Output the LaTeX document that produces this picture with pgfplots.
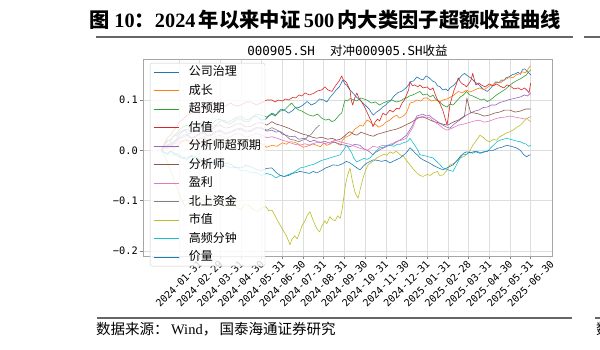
\documentclass[border=0pt]{standalone}
\usepackage{fontspec}
\usepackage{pgfplots}
\pgfplotsset{compat=1.18}
\setmainfont{Liberation Serif}
\newfontfamily\cjk{Noto Sans CJK SC}
\newfontfamily\mono{DejaVu Sans Mono}
\definecolor{tblue}{HTML}{1F77B4}
\definecolor{torange}{HTML}{FF7F0E}
\definecolor{tgreen}{HTML}{2CA02C}
\definecolor{tred}{HTML}{D62728}
\definecolor{tpurple}{HTML}{9467BD}
\definecolor{tbrown}{HTML}{8C564B}
\definecolor{tpink}{HTML}{E377C2}
\definecolor{tgray}{HTML}{7F7F7F}
\definecolor{tolive}{HTML}{BCBD22}
\definecolor{tcyan}{HTML}{17BECF}
\begin{document}
\begin{tikzpicture}[x=1pt,y=1pt]
\useasboundingbox (0,0) rectangle (600,350);
% page title
\node[anchor=center,inner sep=0pt] at (325,330) {\fontsize{20.3}{22}\selectfont{\cjk\bfseries 图}\ {\bfseries 10}{\cjk\bfseries ：}{\bfseries 2024}\,{\cjk\bfseries 年以来中证}\,{\bfseries 500}\,{\cjk\bfseries 内大类因子超额收益曲线}};
\draw[line width=1.3pt,black!60] (96,313) -- (573,313);
\draw[line width=1.3pt,black!60] (584,313) -- (600,313);
% footer
\draw[line width=1.3pt,black!60] (97,32) -- (572,32);
\draw[line width=1.3pt,black!60] (595,32) -- (600,32);
\node[anchor=west,inner sep=0pt] at (96,21) {\fontsize{14.5}{16}\selectfont{\cjk 数据来源：}\,Wind{\cjk ，}\,{\cjk 国泰海通证券研究}};
\node[anchor=west,inner sep=0pt] at (596,21) {\fontsize{14.5}{16}\selectfont\cjk 数};
% chart title
\node[anchor=center,inner sep=0pt] at (347.5,299) {\fontsize{12.5}{14}\selectfont{\mono 000905.SH}\hspace{1.2em}{\cjk 对冲}{\mono 000905.SH}{\cjk 收益}};
\begin{axis}[
  at={(143pt,94pt)}, anchor=south west,
  scale only axis, width=409pt, height=197pt,
  xmin=-1.73, xmax=18.03, ymin=-0.2101, ymax=0.1815,
  axis line style={draw=black!35, line width=0.6pt},
  grid=major, major grid style={black!13, line width=0.5pt},
  tick style={black!50, line width=0.5pt}, major tick length=3pt, tick align=outside,
  xtick pos=lower, ytick pos=left,
  ytick={-0.2,-0.1,0,0.1}, yticklabels={−0.2,−0.1,0.0,0.1},
  yticklabel style={font=\mono\fontsize{10.3}{12}\selectfont, inner sep=2pt},
  xtick={0,...,17},
  xticklabels={2024-01-31,2024-02-29,2024-03-31,2024-04-30,2024-05-31,2024-06-30,2024-07-31,2024-08-31,2024-09-30,2024-10-31,2024-11-30,2024-12-31,2025-01-31,2025-02-28,2025-03-31,2025-04-30,2025-05-31,2025-06-30},
  xticklabel style={rotate=45, anchor=center, font=\mono\fontsize{10}{11}\selectfont, inner sep=1pt},
  xticklabel shift=25pt,
  no markers,
  every axis plot/.append style={line width=0.6pt, line join=round},
  legend cell align=left,
  legend image code/.code={\draw[#1, line width=0.8pt] (0pt,0pt) -- (25pt,0pt);},
  legend style={at={(0.017,0.98)}, anchor=north west, draw=black!20, fill=white,
    fill opacity=0.82, draw opacity=1, text opacity=1, rounded corners=2pt,
    font=\cjk\fontsize{12}{14}\selectfont, inner xsep=3pt, inner ysep=2pt,
    row sep=4.5pt, column sep=9pt,
    nodes={inner xsep=1pt, inner ysep=1pt, text height=9.5pt, text depth=2.5pt}},
]
\addplot[tblue] coordinates {(-0.85,0) (-0.7,0.008) (-0.55,0.004) (-0.4,0.016) (-0.25,0.012) (-0.1,0.024) (0,0.03) (0.15,0.036) (0.3,0.04) (0.45,0.032) (0.6,0.035) (0.8,0.044) (1,0.045) (1.2,0.05) (1.4,0.055) (1.6,0.047) (1.8,0.05) (2,0.058) (2.2,0.06) (2.4,0.052) (2.6,0.055) (2.8,0.062) (3,0.063) (3.2,0.056) (3.4,0.058) (3.6,0.068) (3.8,0.066) (4,0.06) (4.2,0.062) (4.35,0.068) (4.5,0.072) (4.65,0.068) (4.8,0.076) (4.95,0.082) (5.1,0.08) (5.3,0.074) (5.5,0.079) (5.65,0.086) (5.8,0.085) (6,0.09) (6.2,0.097) (6.4,0.09) (6.6,0.094) (6.8,0.102) (7,0.1) (7.15,0.096) (7.3,0.105) (7.45,0.112) (7.6,0.12) (7.75,0.126) (7.93,0.14) (8.02,0.132) (8.1,0.13) (8.2,0.124) (8.27,0.12) (8.45,0.112) (8.6,0.105) (8.8,0.098) (9,0.09) (9.1,0.086) (9.2,0.082) (9.3,0.075) (9.4,0.07) (9.55,0.076) (9.7,0.08) (9.85,0.086) (10,0.09) (10.1,0.095) (10.2,0.097) (10.4,0.108) (10.6,0.115) (10.8,0.118) (11,0.125) (11.1,0.13) (11.17,0.136) (11.35,0.138) (11.5,0.146) (11.65,0.142) (11.8,0.14) (11.95,0.148) (12.1,0.144) (12.25,0.138) (12.4,0.135) (12.5,0.128) (12.6,0.127) (12.75,0.12) (12.9,0.122) (13,0.118) (13.1,0.124) (13.3,0.13) (13.5,0.14) (13.65,0.148) (13.8,0.153) (13.95,0.148) (14.1,0.144) (14.3,0.136) (14.5,0.13) (14.7,0.122) (14.9,0.117) (15.1,0.125) (15.3,0.136) (15.45,0.134) (15.6,0.14) (15.7,0.138) (15.8,0.144) (15.95,0.146) (16.1,0.15) (16.25,0.152) (16.4,0.155) (16.5,0.151) (16.6,0.16) (16.7,0.162) (16.8,0.158) (16.9,0.154) (17,0.15)};
\addlegendentry{公司治理}
\addplot[torange] coordinates {(-0.85,0) (-0.7,0.006) (-0.55,0.003) (-0.4,0.01) (-0.25,0.002) (-0.1,0.008) (0,0.012) (0.2,0.018) (0.4,0.02) (0.6,0.012) (0.8,0.015) (1,0.022) (1.2,0.025) (1.4,0.018) (1.6,0.02) (1.8,0.024) (2,0.018) (2.25,0.014) (2.5,0.012) (2.75,0.018) (3,0.015) (3.25,0.008) (3.5,0.01) (3.75,0.016) (4,0.013) (4.25,0.006) (4.5,0.01) (4.75,0.008) (5,0.015) (5.2,0.012) (5.37,0.017) (5.6,0.016) (5.8,0.012) (6,0.006) (6.2,0.008) (6.45,0.013) (6.66,0.01) (6.85,0.007) (7,0.015) (7.15,0.01) (7.3,0.012) (7.45,0.018) (7.63,0.014) (7.8,0.01) (7.9,0.02) (8.05,0.026) (8.27,0.03) (8.4,0.036) (8.5,0.042) (8.65,0.046) (8.75,0.05) (8.9,0.048) (9,0.055) (9.1,0.06) (9.24,0.057) (9.4,0.05) (9.5,0.052) (9.65,0.046) (9.86,0.05) (10,0.056) (10.2,0.06) (10.35,0.066) (10.53,0.07) (10.65,0.064) (10.8,0.067) (10.9,0.07) (11,0.075) (11.1,0.085) (11.17,0.094) (11.35,0.096) (11.5,0.1) (11.7,0.098) (11.85,0.104) (12,0.104) (12.2,0.098) (12.4,0.1) (12.6,0.096) (12.76,0.1) (12.95,0.102) (13.1,0.105) (13.3,0.11) (13.5,0.117) (13.7,0.114) (13.9,0.12) (14.05,0.116) (14.2,0.118) (14.4,0.122) (14.55,0.124) (14.75,0.12) (15,0.128) (15.2,0.13) (15.37,0.136) (15.55,0.134) (15.7,0.14) (15.85,0.142) (16,0.146) (16.15,0.144) (16.3,0.15) (16.45,0.152) (16.6,0.156) (16.75,0.154) (16.85,0.16) (16.95,0.166) (17,0.168)};
\addlegendentry{成长}
\addplot[tgreen] coordinates {(-0.85,0) (-0.7,0.012) (-0.55,0.02) (-0.4,0.018) (-0.25,0.03) (-0.1,0.034) (0,0.04) (0.2,0.046) (0.4,0.05) (0.6,0.042) (0.8,0.045) (1,0.052) (1.2,0.058) (1.4,0.05) (1.6,0.052) (1.8,0.06) (2,0.062) (2.25,0.055) (2.5,0.058) (2.75,0.065) (3,0.068) (3.25,0.06) (3.5,0.064) (3.75,0.072) (4,0.07) (4.25,0.066) (4.5,0.074) (4.7,0.07) (4.9,0.078) (5.1,0.08) (5.3,0.088) (5.45,0.094) (5.6,0.086) (5.8,0.08) (5.95,0.078) (6.1,0.074) (6.3,0.07) (6.5,0.068) (6.7,0.072) (6.9,0.064) (7.1,0.06) (7.25,0.062) (7.4,0.057) (7.55,0.06) (7.65,0.065) (7.75,0.07) (7.87,0.074) (7.95,0.088) (8.03,0.1) (8.15,0.098) (8.27,0.103) (8.45,0.1) (8.6,0.098) (8.8,0.104) (9.08,0.1) (9.3,0.094) (9.5,0.096) (9.7,0.09) (9.86,0.094) (10.1,0.098) (10.3,0.1) (10.5,0.096) (10.7,0.098) (10.85,0.102) (11,0.104) (11.15,0.108) (11.3,0.11) (11.5,0.114) (11.65,0.117) (11.8,0.11) (12,0.112) (12.15,0.106) (12.28,0.11) (12.4,0.102) (12.5,0.1) (12.65,0.094) (12.76,0.09) (12.95,0.086) (13.1,0.092) (13.25,0.09) (13.4,0.097) (13.6,0.106) (13.75,0.11) (13.9,0.117) (14.05,0.11) (14.2,0.108) (14.4,0.104) (14.6,0.1) (14.75,0.102) (14.9,0.097) (15.05,0.1) (15.2,0.105) (15.35,0.11) (15.5,0.114) (15.65,0.118) (15.8,0.122) (15.95,0.128) (16.14,0.134) (16.3,0.138) (16.5,0.142) (16.65,0.146) (16.8,0.15) (16.9,0.156) (17,0.16)};
\addlegendentry{超预期}
\addplot[tred] coordinates {(-0.85,0) (-0.7,0.014) (-0.55,0.025) (-0.4,0.03) (-0.25,0.04) (-0.1,0.046) (0,0.055) (0.2,0.062) (0.4,0.07) (0.6,0.074) (0.8,0.078) (1,0.084) (1.2,0.085) (1.4,0.078) (1.6,0.08) (1.8,0.088) (2,0.09) (2.25,0.088) (2.5,0.094) (2.75,0.088) (3,0.09) (3.25,0.096) (3.5,0.096) (3.75,0.09) (4,0.095) (4.25,0.1) (4.5,0.1) (4.65,0.096) (4.8,0.1) (5,0.098) (5.15,0.102) (5.3,0.1) (5.5,0.105) (5.65,0.104) (5.8,0.11) (5.95,0.108) (6.1,0.114) (6.3,0.11) (6.5,0.113) (6.7,0.118) (6.9,0.12) (7.06,0.126) (7.2,0.12) (7.4,0.117) (7.5,0.124) (7.6,0.13) (7.75,0.138) (7.87,0.148) (7.95,0.14) (8.1,0.135) (8.2,0.126) (8.27,0.12) (8.33,0.1) (8.4,0.09) (8.5,0.104) (8.6,0.114) (8.7,0.104) (8.85,0.095) (8.95,0.088) (9.08,0.077) (9.2,0.066) (9.3,0.058) (9.38,0.047) (9.48,0.056) (9.6,0.062) (9.7,0.058) (9.86,0.074) (10,0.07) (10.2,0.08) (10.35,0.076) (10.53,0.084) (10.65,0.082) (10.8,0.095) (10.9,0.1) (11,0.11) (11.1,0.12) (11.17,0.136) (11.3,0.128) (11.4,0.13) (11.55,0.126) (11.65,0.13) (11.8,0.124) (12,0.126) (12.15,0.12) (12.28,0.124) (12.4,0.11) (12.5,0.1) (12.6,0.094) (12.75,0.08) (12.85,0.066) (12.96,0.05) (13.03,0.07) (13.1,0.09) (13.2,0.106) (13.3,0.12) (13.4,0.13) (13.5,0.144) (13.6,0.136) (13.7,0.132) (13.8,0.13) (13.9,0.126) (14.05,0.135) (14.12,0.14) (14.2,0.153) (14.28,0.14) (14.35,0.13) (14.5,0.134) (14.6,0.13) (14.8,0.126) (15,0.132) (15.2,0.128) (15.35,0.132) (15.5,0.128) (15.7,0.124) (15.85,0.13) (16,0.128) (16.2,0.122) (16.4,0.124) (16.55,0.12) (16.7,0.124) (16.85,0.118) (16.92,0.114) (17,0.134)};
\addlegendentry{估值}
\addplot[tpurple] coordinates {(-0.85,0) (-0.7,0.006) (-0.55,0.012) (-0.4,0.01) (-0.25,0.018) (-0.1,0.02) (0,0.025) (0.2,0.03) (0.4,0.032) (0.6,0.025) (0.8,0.028) (1,0.034) (1.2,0.036) (1.4,0.03) (1.6,0.032) (1.8,0.038) (2,0.04) (2.25,0.034) (2.5,0.036) (2.75,0.042) (3,0.044) (3.25,0.038) (3.5,0.04) (3.75,0.046) (4,0.043) (4.25,0.038) (4.5,0.04) (4.7,0.036) (4.85,0.038) (5,0.032) (5.2,0.03) (5.37,0.027) (5.6,0.028) (5.8,0.022) (6.05,0.024) (6.34,0.017) (6.55,0.02) (6.8,0.015) (7.05,0.018) (7.3,0.014) (7.55,0.016) (7.8,0.012) (8.05,0.01) (8.27,0.007) (8.5,0.012) (8.75,0.01) (8.9,0.004) (9.1,0.0) (9.25,-0.004) (9.38,-0.009) (9.5,-0.004) (9.6,-0.002) (9.75,0.002) (9.86,0.004) (10.05,0.008) (10.2,0.01) (10.35,0.012) (10.53,0.017) (10.75,0.022) (11,0.03) (11.15,0.04) (11.3,0.05) (11.4,0.06) (11.5,0.068) (11.65,0.07) (11.8,0.072) (11.95,0.068) (12.1,0.07) (12.25,0.064) (12.4,0.06) (12.6,0.054) (12.76,0.05) (12.95,0.046) (13.1,0.044) (13.3,0.052) (13.5,0.058) (13.7,0.064) (13.9,0.07) (14.1,0.074) (14.3,0.078) (14.5,0.08) (14.7,0.085) (14.9,0.086) (15.1,0.09) (15.3,0.09) (15.5,0.095) (15.7,0.097) (15.9,0.1) (16.1,0.102) (16.3,0.104) (16.5,0.106) (16.7,0.11) (16.85,0.108) (17,0.114)};
\addlegendentry{分析师超预期}
\addplot[tbrown] coordinates {(-0.85,0) (-0.7,0.01) (-0.55,0.018) (-0.4,0.022) (-0.25,0.028) (-0.1,0.03) (0,0.035) (0.2,0.04) (0.4,0.042) (0.6,0.036) (0.8,0.038) (1,0.044) (1.2,0.047) (1.4,0.04) (1.6,0.042) (1.8,0.048) (2,0.05) (2.25,0.044) (2.5,0.046) (2.75,0.052) (3,0.053) (3.25,0.046) (3.5,0.048) (3.75,0.054) (4,0.055) (4.25,0.05) (4.5,0.057) (4.7,0.052) (4.9,0.05) (5.1,0.047) (5.3,0.044) (5.5,0.04) (5.75,0.036) (6,0.032) (6.2,0.03) (6.45,0.026) (6.66,0.024) (6.9,0.026) (7.2,0.022) (7.4,0.024) (7.63,0.02) (7.8,0.022) (8,0.028) (8.15,0.034) (8.27,0.037) (8.45,0.032) (8.6,0.03) (8.8,0.036) (9,0.033) (9.2,0.03) (9.4,0.028) (9.6,0.032) (9.86,0.035) (10.1,0.038) (10.3,0.04) (10.5,0.042) (10.7,0.045) (10.95,0.05) (11.2,0.055) (11.4,0.06) (11.6,0.065) (11.8,0.066) (12,0.063) (12.25,0.058) (12.5,0.055) (12.75,0.052) (13,0.05) (13.25,0.056) (13.5,0.06) (13.65,0.064) (13.8,0.068) (13.86,0.085) (13.92,0.104) (14,0.09) (14.1,0.075) (14.3,0.074) (14.5,0.072) (14.75,0.068) (15,0.07) (15.25,0.074) (15.5,0.076) (15.75,0.08) (16,0.08) (16.25,0.076) (16.5,0.078) (16.75,0.082) (17,0.082)};
\addlegendentry{分析师}
\addplot[tpink] coordinates {(-0.85,0) (-0.7,0.004) (-0.55,0.006) (-0.4,0.004) (-0.25,0.012) (-0.1,0.014) (0,0.016) (0.2,0.02) (0.4,0.022) (0.6,0.016) (0.8,0.018) (1,0.024) (1.2,0.027) (1.4,0.022) (1.6,0.024) (1.8,0.028) (2,0.03) (2.25,0.024) (2.5,0.027) (2.75,0.033) (3,0.032) (3.25,0.026) (3.5,0.029) (3.75,0.034) (4,0.03) (4.25,0.025) (4.5,0.027) (4.75,0.024) (5,0.02) (5.2,0.018) (5.37,0.015) (5.6,0.012) (5.86,0.01) (6.1,0.013) (6.34,0.01) (6.55,0.014) (6.8,0.017) (7.05,0.013) (7.3,0.016) (7.55,0.02) (7.8,0.017) (8.05,0.014) (8.27,0.012) (8.5,0.008) (8.75,0.004) (8.95,0.002) (9.1,0.0) (9.25,0.004) (9.38,0.008) (9.6,0.006) (9.86,0.01) (10.05,0.008) (10.2,0.012) (10.35,0.014) (10.53,0.018) (10.75,0.02) (11,0.024) (11.15,0.035) (11.3,0.045) (11.4,0.056) (11.5,0.065) (11.65,0.066) (11.8,0.068) (11.95,0.064) (12.1,0.066) (12.25,0.06) (12.4,0.055) (12.6,0.05) (12.76,0.044) (12.95,0.04) (13.1,0.042) (13.3,0.046) (13.5,0.05) (13.75,0.052) (14,0.055) (14.25,0.058) (14.5,0.06) (14.75,0.056) (15,0.058) (15.25,0.062) (15.5,0.065) (15.75,0.066) (16,0.068) (16.25,0.066) (16.5,0.064) (16.75,0.062) (17,0.067)};
\addlegendentry{盈利}
\addplot[tgray] coordinates {(-0.85,0) (-0.7,0.006) (-0.55,0.01) (-0.4,0.008) (-0.25,0.015) (-0.1,0.018) (0,0.022) (0.2,0.026) (0.4,0.03) (0.6,0.024) (0.8,0.026) (1,0.032) (1.2,0.034) (1.4,0.028) (1.6,0.03) (1.8,0.036) (2,0.038) (2.25,0.032) (2.5,0.036) (2.75,0.04) (3,0.042) (3.25,0.036) (3.5,0.038) (3.75,0.044) (4,0.045) (4.25,0.04) (4.5,0.045) (4.75,0.04) (5,0.035) (5.2,0.028) (5.37,0.022) (5.6,0.02) (5.8,0.017) (5.95,0.02) (6.1,0.022) (6.25,0.028) (6.4,0.032) (6.55,0.04) (6.66,0.045) (6.8,0.05)};
\addlegendentry{北上资金}
\addplot[tolive] coordinates {(-0.85,0) (-0.7,-0.01) (-0.6,-0.02) (-0.5,-0.03) (-0.4,-0.04) (-0.3,-0.05) (-0.2,-0.065) (-0.1,-0.072) (0,-0.085) (0.15,-0.1) (0.3,-0.112) (0.45,-0.104) (0.6,-0.1) (0.8,-0.09) (1,-0.095) (1.2,-0.102) (1.4,-0.108) (1.6,-0.098) (1.8,-0.1) (2,-0.106) (2.2,-0.112) (2.4,-0.104) (2.6,-0.105) (2.8,-0.114) (3,-0.118) (3.2,-0.108) (3.4,-0.11) (3.6,-0.118) (3.8,-0.122) (4,-0.115) (4.2,-0.112) (4.35,-0.12) (4.5,-0.119) (4.65,-0.13) (4.8,-0.142) (4.9,-0.149) (5.05,-0.16) (5.2,-0.17) (5.3,-0.18) (5.37,-0.188) (5.45,-0.178) (5.6,-0.17) (5.72,-0.176) (5.85,-0.162) (5.95,-0.15) (6.1,-0.14) (6.2,-0.13) (6.34,-0.122) (6.45,-0.135) (6.6,-0.15) (6.7,-0.158) (6.8,-0.162) (6.92,-0.15) (7.05,-0.14) (7.15,-0.146) (7.3,-0.132) (7.42,-0.138) (7.55,-0.14) (7.68,-0.13) (7.8,-0.135) (7.88,-0.12) (7.95,-0.1) (8.05,-0.069) (8.15,-0.05) (8.27,-0.035) (8.38,-0.06) (8.5,-0.082) (8.58,-0.09) (8.66,-0.095) (8.78,-0.075) (8.9,-0.055) (9.02,-0.04) (9.14,-0.029) (9.3,-0.024) (9.45,-0.02) (9.56,-0.015) (9.7,-0.012) (9.9,-0.008) (10.05,-0.01) (10.2,-0.003) (10.35,-0.006) (10.5,-0.002) (10.7,-0.009) (10.85,-0.012) (11,-0.02) (11.17,-0.029) (11.3,-0.036) (11.5,-0.045) (11.65,-0.05) (11.8,-0.052) (12,-0.048) (12.15,-0.05) (12.3,-0.045) (12.5,-0.042) (12.6,-0.05) (12.76,-0.049) (12.95,-0.04) (13.1,-0.029) (13.3,-0.026) (13.45,-0.02) (13.6,-0.015) (13.8,-0.012) (13.95,-0.006) (14.08,0.0) (14.2,0.01) (14.35,0.018) (14.55,0.03) (14.7,0.026) (14.85,0.02) (15.03,0.017) (15.2,0.022) (15.35,0.02) (15.5,0.027) (15.65,0.03) (15.8,0.034) (16,0.037) (16.15,0.04) (16.3,0.045) (16.5,0.05) (16.65,0.056) (16.8,0.064) (16.9,0.06) (17,0.057)};
\addlegendentry{市值}
\addplot[tcyan] coordinates {(-0.85,0) (-0.7,-0.004) (-0.55,-0.006) (-0.4,-0.002) (-0.25,-0.01) (-0.1,-0.006) (0,-0.008) (0.2,-0.014) (0.4,-0.015) (0.6,-0.01) (0.8,-0.012) (1,-0.018) (1.2,-0.02) (1.4,-0.02) (1.6,-0.025) (1.8,-0.024) (2,-0.03) (2.25,-0.03) (2.5,-0.035) (2.75,-0.034) (3,-0.04) (3.25,-0.04) (3.5,-0.045) (3.75,-0.044) (4,-0.05) (4.25,-0.046) (4.5,-0.049) (4.7,-0.055) (4.9,-0.05) (5.1,-0.052) (5.3,-0.048) (5.5,-0.045) (5.7,-0.04) (5.86,-0.035) (6.1,-0.033) (6.3,-0.03) (6.5,-0.028) (6.66,-0.025) (6.9,-0.02) (7.1,-0.018) (7.3,-0.015) (7.55,-0.012) (7.79,-0.009) (7.95,0.0) (8.11,0.01) (8.25,0.002) (8.35,-0.005) (8.45,-0.015) (8.59,-0.023) (8.75,-0.02) (8.95,-0.016) (9.1,-0.018) (9.24,-0.015) (9.45,-0.005) (9.7,0.005) (9.9,0.006) (10.05,0.01) (10.2,0.01) (10.4,0.008) (10.55,0.012) (10.69,0.012) (10.85,0.015) (11.0,0.017) (11.1,0.02) (11.17,0.024) (11.3,0.016) (11.4,0.01) (11.55,0.0) (11.65,-0.009) (11.8,-0.01) (12,-0.012) (12.15,-0.014) (12.28,-0.015) (12.45,-0.022) (12.6,-0.028) (12.76,-0.035) (12.95,-0.038) (13.1,-0.04) (13.25,-0.042) (13.4,-0.03) (13.55,-0.018) (13.7,-0.009) (13.9,-0.008) (14.05,-0.004) (14.2,-0.006) (14.4,-0.002) (14.6,-0.005) (14.75,-0.002) (14.9,-0.003) (15.05,0.004) (15.2,0.01) (15.37,0.017) (15.5,0.02) (15.7,0.022) (15.85,0.024) (16,0.022) (16.2,0.02) (16.35,0.018) (16.5,0.017) (16.65,0.014) (16.8,0.012) (16.9,0.008) (17,0.01)};
\addlegendentry{高频分钟}
\addplot[tblue] coordinates {(-0.85,0) (-0.7,-0.004) (-0.55,-0.008) (-0.4,-0.002) (-0.25,-0.004) (-0.1,-0.01) (0,-0.012) (0.2,-0.016) (0.4,-0.018) (0.6,-0.012) (0.8,-0.015) (1,-0.02) (1.2,-0.025) (1.4,-0.02) (1.6,-0.022) (1.8,-0.028) (2,-0.03) (2.25,-0.025) (2.5,-0.028) (2.75,-0.034) (3,-0.035) (3.25,-0.03) (3.5,-0.033) (3.75,-0.038) (4,-0.04) (4.25,-0.036) (4.5,-0.035) (4.7,-0.044) (4.9,-0.05) (5.1,-0.052) (5.3,-0.05) (5.5,-0.046) (5.7,-0.044) (5.86,-0.042) (6.1,-0.044) (6.3,-0.046) (6.5,-0.042) (6.66,-0.045) (6.9,-0.04) (7.1,-0.035) (7.3,-0.032) (7.45,-0.029) (7.7,-0.03) (7.9,-0.027) (8.1,-0.022) (8.27,-0.025) (8.5,-0.032) (8.75,-0.039) (8.95,-0.03) (9.1,-0.025) (9.25,-0.022) (9.38,-0.019) (9.6,-0.02) (9.8,-0.022) (10,-0.02) (10.2,-0.025) (10.45,-0.02) (10.7,-0.015) (10.9,-0.008) (11.05,-0.002) (11.17,0.005) (11.3,0.0) (11.4,-0.005) (11.55,-0.01) (11.65,-0.015) (11.85,-0.02) (12.1,-0.025) (12.3,-0.03) (12.55,-0.035) (12.76,-0.039) (13,-0.034) (13.25,-0.029) (13.45,-0.02) (13.6,-0.012) (13.75,-0.006) (13.9,-0.003) (14.1,-0.005) (14.3,-0.002) (14.55,-0.006) (14.8,-0.003) (15,0.0) (15.2,0.0) (15.4,0.004) (15.6,0.006) (15.85,0.01) (16.05,0.008) (16.3,0.005) (16.5,0.0) (16.65,-0.008) (16.8,-0.013) (16.9,-0.01) (17,-0.009)};
\addlegendentry{价量}
\end{axis}
\end{tikzpicture}
\end{document}
